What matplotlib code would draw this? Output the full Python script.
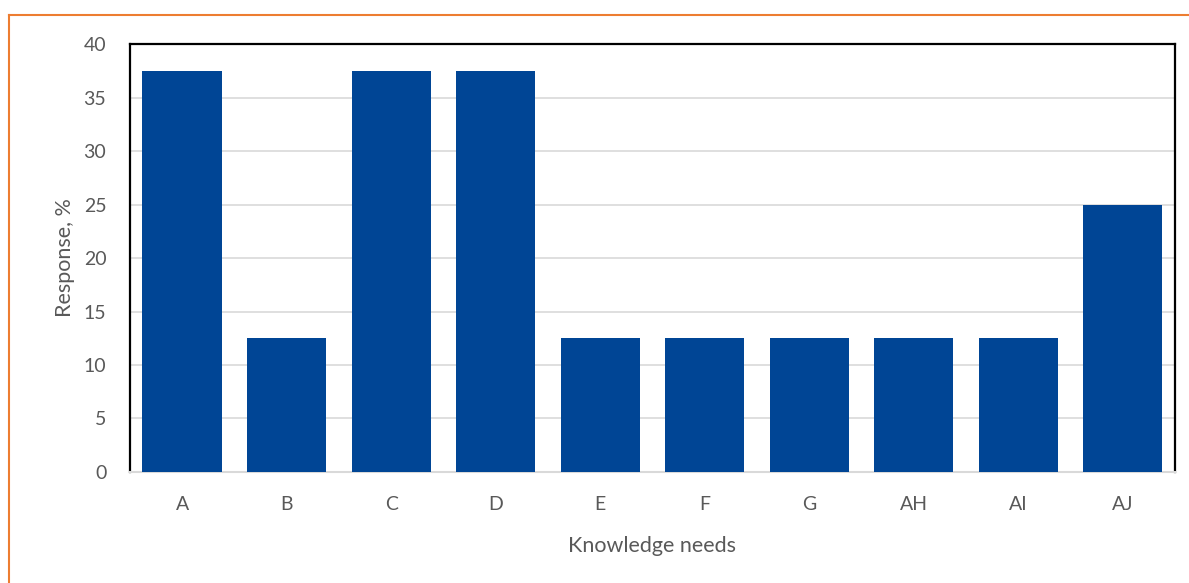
import matplotlib
matplotlib.use("Agg")
import matplotlib.pyplot as plt
from matplotlib.lines import Line2D

categories = ["A", "B", "C", "D", "E", "F", "G", "AH", "AI", "AJ"]
response = [37.5, 12.5, 37.5, 37.5, 12.5, 12.5, 12.5, 12.5, 12.5, 25]

plt.rcParams['font.family'] = ['Lato', 'DejaVu Sans']
grey = "#595959"

fig = plt.figure(figsize=(11.89, 5.83), dpi=100)
ax = fig.add_axes([0.1093, 0.1904, 0.8789, 0.7341])

x = range(len(categories))
ax.bar(x, response, width=0.76, color="#004595", zorder=3)

ax.set_xlim(-0.5, len(categories) - 0.5)
ax.set_ylim(0, 40)
ax.set_yticks(range(0, 41, 5))
ax.set_xticks(list(x))
ax.set_xticklabels(categories)
ax.yaxis.grid(True, color="#d9d9d9", linewidth=1.2, zorder=0)
ax.tick_params(axis="both", length=0, labelsize=14, colors=grey)
ax.tick_params(axis="x", pad=17)
ax.tick_params(axis="y", pad=17)

for side in ["left", "top", "right"]:
    ax.spines[side].set_color("black")
    ax.spines[side].set_linewidth(1.6)
ax.spines["bottom"].set_color("#d9d9d9")
ax.spines["bottom"].set_linewidth(1.5)

ax.set_xlabel("Knowledge needs", fontsize=15.5, color=grey, labelpad=17)
ax.set_ylabel("Response, %", fontsize=15.5, color=grey, labelpad=6)

# orange frame along the top and left edges
fig.add_artist(Line2D([0.0076, 1.0], [0.974, 0.974], color="#ED7D31", linewidth=1.5))
fig.add_artist(Line2D([0.0076, 0.0076], [0.0, 0.974], color="#ED7D31", linewidth=1.5))

fig.savefig("out.png", dpi=100)
